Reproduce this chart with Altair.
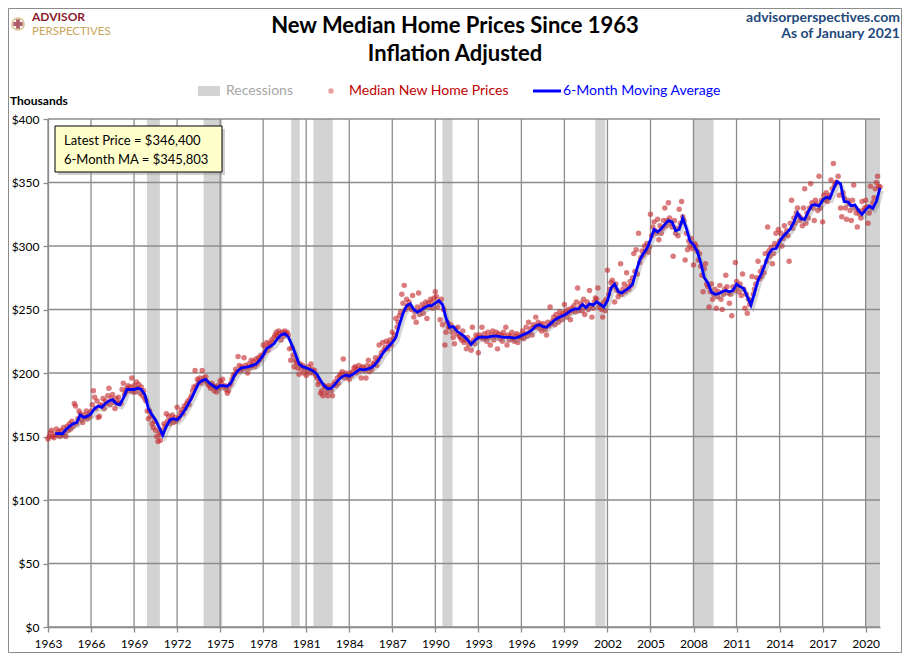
import altair as alt
import pandas as pd

FONT = "Lato"

# ---------------- data ----------------
# Monthly inflation-adjusted median new home prices, $ thousands (Jan 1963 ... Jan 2021)
prices_1960s = [
    148, 150, 153, 155, 150, 149, 152, 156, 151, 154, 150, 155,
    151, 157, 153, 150, 158, 155, 160, 156, 162, 158, 176, 174,
    160, 164, 170, 168, 163, 161, 167, 165, 170, 164, 168, 166,
    170, 175, 186, 181, 172, 178, 165, 166, 175, 174, 180, 172,
    178, 176, 182, 188, 175, 180, 183, 177, 172, 180, 176, 181,
    177, 176, 187, 192, 183, 185, 188, 190, 186, 189, 196, 185,
    190, 185, 193, 188, 191, 184, 189, 182, 186, 180, 178, 170,
]
prices_1970s = [
    164, 170, 166, 160, 157, 162, 155, 150, 146, 153, 147, 152,
    155, 160, 158, 168, 162, 166, 160, 163, 167, 161, 165, 162,
    173, 164, 166, 169, 171, 168, 174, 172, 176, 178, 175, 180,
    182, 186, 189, 202, 190, 195, 193, 196, 192, 202, 196, 194,
    197, 193, 191, 190, 188, 192, 190, 186, 189, 185, 190, 188,
    194, 192, 195, 189, 190, 187, 184, 186, 190, 192, 195, 198,
    199, 203, 201, 213, 206, 202, 205, 203, 212, 206, 204, 200,
    207, 204, 210, 206, 209, 205, 211, 207, 212, 210, 214, 213,
    222, 216, 220, 224, 218, 223, 221, 226, 224, 228, 230, 232,
    229, 233, 231, 226, 232, 229, 233, 231, 232, 230, 219, 210,
]
prices_1980s = [
    220, 214, 205, 210, 208, 204, 199, 207, 203, 206, 200, 204,
    198, 202, 205, 200, 207, 203, 200, 202, 198, 196, 191, 193,
    184, 186, 182, 190, 189, 185, 182, 190, 188, 186, 182, 191,
    193, 190, 196, 192, 198, 199, 201, 211, 196, 200, 198, 197,
    195, 200, 198, 201, 204, 205, 200, 203, 206, 202, 196, 205,
    204, 202, 196, 206, 210, 201, 205, 203, 207, 208, 212, 206,
    210, 222, 213, 216, 224, 218, 220, 225, 219, 223, 226, 222,
    232, 227, 230, 243, 236, 240, 245, 248, 262, 255, 269, 250,
    258, 253, 256, 252, 250, 261, 244, 248, 240, 252, 263, 246,
    250, 254, 247, 252, 256, 243, 255, 252, 258, 256, 251, 259,
]
prices_1990s = [
    264, 260, 252, 256, 242, 258, 238, 250, 222, 232, 240, 236,
    236, 238, 232, 228, 223, 235, 231, 236, 229, 228, 226, 233,
    224, 226, 219, 228, 222, 224, 218, 236, 226, 223, 230, 228,
    216, 230, 228, 236, 227, 231, 228, 225, 232, 228, 222, 230,
    233, 226, 229, 232, 219, 231, 227, 230, 225, 232, 229, 236,
    222, 230, 226, 229, 232, 227, 225, 229, 231, 224, 228, 230,
    228, 233, 227, 231, 236, 229, 240, 232, 235, 230, 238, 236,
    244, 237, 240, 235, 238, 233, 239, 236, 234, 230, 240, 237,
    252, 239, 241, 244, 238, 246, 243, 240, 248, 245, 242, 247,
    254, 248, 244, 250, 247, 242, 251, 249, 253, 248, 256, 267,
]
prices_2000s = [
    249, 252, 255, 249, 258, 246, 252, 256, 250, 265, 253, 244,
    251, 256, 259, 258, 267, 252, 254, 250, 244, 256, 249, 258,
    281, 262, 266, 271, 273, 268, 256, 270, 265, 260, 263, 286,
    262, 266, 270, 264, 279, 268, 266, 272, 269, 275, 294, 280,
    297, 278, 310, 287, 291, 296, 293, 300, 296, 302, 295, 299,
    325, 308, 315, 319, 312, 310, 321, 305, 316, 310, 314, 320,
    330, 316, 320, 334, 322, 318, 315, 292, 320, 310, 314, 308,
    329, 318, 335, 323, 320, 289, 310, 297, 304, 300, 306, 298,
    285, 302, 300, 296, 289, 294, 284, 277, 264, 282, 286, 270,
    268, 252, 264, 270, 258, 262, 266, 251, 260, 264, 269, 258,
]
prices_2010s = [
    250, 262, 266, 277, 268, 263, 255, 262, 245, 268, 265, 287,
    272, 268, 264, 270, 261, 278, 266, 251, 262, 247, 258, 254,
    257, 276, 262, 266, 270, 275, 288, 274, 280, 276, 283, 279,
    294, 288, 315, 296, 292, 299, 286, 294, 302, 310, 300, 313,
    304, 310, 300, 306, 316, 309, 312, 308, 288, 318, 336, 314,
    322, 318, 326, 330, 324, 320, 322, 316, 330, 345, 318, 326,
    322, 330, 349, 334, 330, 320, 336, 333, 328, 355, 330, 336,
    319, 340, 336, 342, 335, 338, 340, 352, 345, 365, 348, 350,
    350, 355, 340, 330, 323, 342, 338, 330, 321, 336, 333, 328,
    320, 336, 348, 330, 326, 315, 328, 325, 322, 335, 328, 330,
]
prices_2020s = [
    336, 331, 318, 326, 347, 330, 334, 338, 345, 350, 355, 347,
    346.4,
]
price_first_year = 1963

# 6-month moving average, read quarterly (Jul 1963 ... Jan 2021), $ thousands
ma_1960s = [152, 152.5,
            152, 155.5, 158, 160, 161, 167, 165, 166, 168, 172, 174, 173,
            176, 178, 179, 176, 175, 180, 187, 187, 187, 188, 187, 183]
ma_1970s = [172, 167, 163, 157, 151, 158, 163, 164, 163, 166, 170, 175,
            180, 186, 192, 194, 195, 192, 190, 188, 190, 190, 189.5, 192,
            198, 202, 204, 204.5, 205, 206, 207, 210, 214, 219.5, 221, 223,
            227, 230, 231, 228.5]
ma_1980s = [222, 215, 207, 205, 204, 203, 201.5, 199, 194, 190, 187.5, 188,
            191, 194.5, 197, 198.5, 197.5, 199, 201, 203, 202.5, 203, 204, 206,
            209.5, 214, 218, 221, 224, 228, 238, 247, 253, 254.5, 250, 248,
            249.5, 251.5, 253, 253]
ma_1990s = [255, 257, 254, 243, 236, 236.5, 233, 231, 229, 226, 222.5, 225.5,
            228, 228.5, 228, 228.5, 229, 229, 228.6, 228, 228, 228, 227.5, 228,
            229.5, 230.7, 232, 234, 237, 238, 236.5, 236, 238.5, 241, 243, 244.5,
            245.5, 247.5, 249.5, 250.5]
ma_2000s = [250.5, 254, 251.5, 254.5, 253.5, 256, 254, 252, 257, 267, 270, 264,
            263, 265, 267, 270, 280, 289, 294, 298, 305, 313, 311, 313.5,
            317, 320, 319, 312, 313, 322, 314, 304, 301, 296, 287, 275,
            271, 263.5, 262, 262.5]
ma_2010s = [264, 265, 264, 265, 270, 268, 266.5, 260, 253.5, 263, 273, 278.5,
            286, 294, 297.5, 298, 303.5, 307.5, 310.5, 313.5, 319, 326, 321.5, 321,
            327, 332, 332.5, 331.5, 336, 338.4, 337.6, 344.5, 350.8, 349, 335, 334.8,
            331.6, 332.4, 328, 325]
ma_2020s = [328.5, 331.5, 329.7, 335, 345.803]
ma_first = 1963.5

# Recessions (decimal years)
rec_start = [1969.9, 1973.85, 1979.95, 1981.5, 1990.5, 2001.15, 2007.95, 2020.0]
rec_end = [1970.8, 1975.15, 1980.55, 1982.85, 1991.2, 2001.85, 2009.4, 2021.0]

x_ticks = list(range(1963, 2021, 3))
y_ticks = list(range(0, 401, 50))

title_lines = ["New Median Home Prices Since 1963", "Inflation Adjusted"]
source_lines = ["advisorperspectives.com", "As of January 2021"]
legend_labels = ["Recessions", "Median New Home Prices", "6-Month Moving Average"]

# ---------------- tables ----------------
prices = prices_1960s + prices_1970s + prices_1980s + prices_1990s + prices_2000s + prices_2010s + prices_2020s
price_df = pd.DataFrame({"t": [price_first_year + i / 12 for i in range(len(prices))], "v": prices})

ma = ma_1960s + ma_1970s + ma_1980s + ma_1990s + ma_2000s + ma_2010s + ma_2020s
ma_df = pd.DataFrame({"t": [ma_first + i * 0.25 for i in range(len(ma))], "v": ma})

rec_df = pd.DataFrame({"s": rec_start, "e": rec_end, "lo": 0, "hi": 400})
xt_df = pd.DataFrame({"t": x_ticks})
yt_df = pd.DataFrame({"v": y_ticks})
one = pd.DataFrame({"k": [0]})

latest_txt = f"Latest Price = ${prices[-1] * 1000:,.0f}"
ma_txt = f"6-Month MA = ${ma[-1] * 1000:,.0f}"

W, H = 832, 508
GRID = "#8c8c8c"

xs = alt.Scale(domain=[1963, 2021], nice=False, zero=False)
ys = alt.Scale(domain=[0, 400], nice=False, zero=True)

x_axis = alt.Axis(values=x_ticks, format="d", grid=False, title=None,
                  labelFont=FONT, labelFontSize=12, labelColor="#000",
                  tickColor=GRID, tickSize=5, tickWidth=1.3,
                  domainColor=GRID, domainWidth=1.3, labelPadding=6,
                  labelOverlap=False, labelFlush=False)
y_axis = alt.Axis(values=y_ticks, labelExpr="'$' + datum.value", grid=False, title=None,
                  labelFont=FONT, labelFontSize=12, labelColor="#000",
                  tickColor=GRID, tickSize=5, tickWidth=1.3,
                  domainColor=GRID, domainWidth=1.3, labelPadding=4,
                  labelFlush=False)

bands = alt.Chart(rec_df).mark_rect(color="#d3d3d3").encode(
    x=alt.X("s:Q", scale=xs, axis=x_axis),
    x2="e:Q",
    y=alt.Y("lo:Q", scale=ys, axis=y_axis),
    y2="hi:Q",
)
vgrid = alt.Chart(xt_df).mark_rule(color=GRID, strokeWidth=1.3).encode(x=alt.X("t:Q", scale=xs))
hgrid = alt.Chart(yt_df).mark_rule(color=GRID, strokeWidth=1.3).encode(y=alt.Y("v:Q", scale=ys))

points = alt.Chart(price_df).mark_circle(size=30, color="#c42a2f", opacity=0.62).encode(
    x=alt.X("t:Q", scale=xs), y=alt.Y("v:Q", scale=ys))
shadow = alt.Chart(ma_df).mark_line(color="#777777", opacity=0.3, strokeWidth=3.5,
                                    xOffset=2, yOffset=3).encode(
    x=alt.X("t:Q", scale=xs), y=alt.Y("v:Q", scale=ys))
line = alt.Chart(ma_df).mark_line(color="#0000ff", strokeWidth=2.8).encode(
    x=alt.X("t:Q", scale=xs), y=alt.Y("v:Q", scale=ys))


def txt(s, x, y, size=13, color="#000", weight="normal", align="left"):
    return alt.Chart(one).mark_text(text=s, font=FONT, fontSize=size, color=color,
                                    fontWeight=weight, align=align, baseline="middle").encode(
        x=alt.value(x), y=alt.value(y))


def box(x0, x1, y0, y1, fill, stroke=None, sw=1, op=1.0):
    kw = dict(fill=fill, fillOpacity=op)
    if stroke:
        kw.update(stroke=stroke, strokeWidth=sw)
    return alt.Chart(one).mark_rect(**kw).encode(
        x=alt.value(x0), x2=alt.value(x1), y=alt.value(y0), y2=alt.value(y1))


# annotation box
ann = [
    box(10, 177, 10, 56, "#999999", op=0.45),
    box(7, 174, 7, 53, "#ffffcc", stroke="#000", sw=1),
    txt(latest_txt, 16, 22, size=13),
    txt(ma_txt, 16, 41, size=13),
]

# legend
legend = [
    box(150, 172, -33, -23, "#d3d3d3"),
    txt(legend_labels[0], 178, -28, size=14, color="#a6a6a6"),
    alt.Chart(one).mark_circle(size=30, color="#e07b7b").encode(x=alt.value(283), y=alt.value(-28)),
    txt(legend_labels[1], 301, -28, size=14, color="#c00000"),
    alt.Chart(one).mark_rule(color="#0000ff", strokeWidth=3).encode(
        x=alt.value(485), x2=alt.value(513), y=alt.value(-28)),
    txt(legend_labels[2], 515, -28, size=14, color="#0000ff"),
]

# titles / header
header = [
    txt(title_lines[0], 407, -93, size=22, weight="bold", align="center"),
    txt(title_lines[1], 407, -65, size=22, weight="bold", align="center"),
    txt(source_lines[0], 852, -101, size=14, color="#1f497d", weight="bold", align="right"),
    txt(source_lines[1], 852, -85, size=14, color="#1f497d", weight="bold", align="right"),
    txt("Thousands", -38, -18, size=12, weight="bold"),
    # logo
    alt.Chart(one).mark_point(size=150, color="#c9a55c", strokeWidth=1.5, filled=False, shape="circle").encode(
        x=alt.value(-30), y=alt.value(-95)),
    alt.Chart(one).mark_point(size=90, color="#8b1a2b", filled=True, shape="cross").encode(
        x=alt.value(-30), y=alt.value(-95)),
    txt("ADVISOR", -16, -102, size=12, color="#8b1a2b", weight="bold"),
    txt("PERSPECTIVES", -16, -87, size=11.5, color="#c9a55c"),
]

frame = alt.Chart(one).mark_rect(fillOpacity=0, stroke="#8c8c8c", strokeWidth=1).encode(
    x=alt.value(-39.5), x2=alt.value(853.5), y=alt.value(-110.5), y2=alt.value(533.5))

chart = alt.layer(
    bands, vgrid, hgrid, points, shadow, line, *ann, *legend, *header, frame
).properties(
    width=W, height=H,
    autosize=alt.AutoSizeParams(type="none"),
    padding={"left": 40, "top": 111, "right": 22, "bottom": 26},
    background="white",
).configure_view(stroke=None)

chart.save("out.html", embed_options={"renderer": "svg", "actions": False})
